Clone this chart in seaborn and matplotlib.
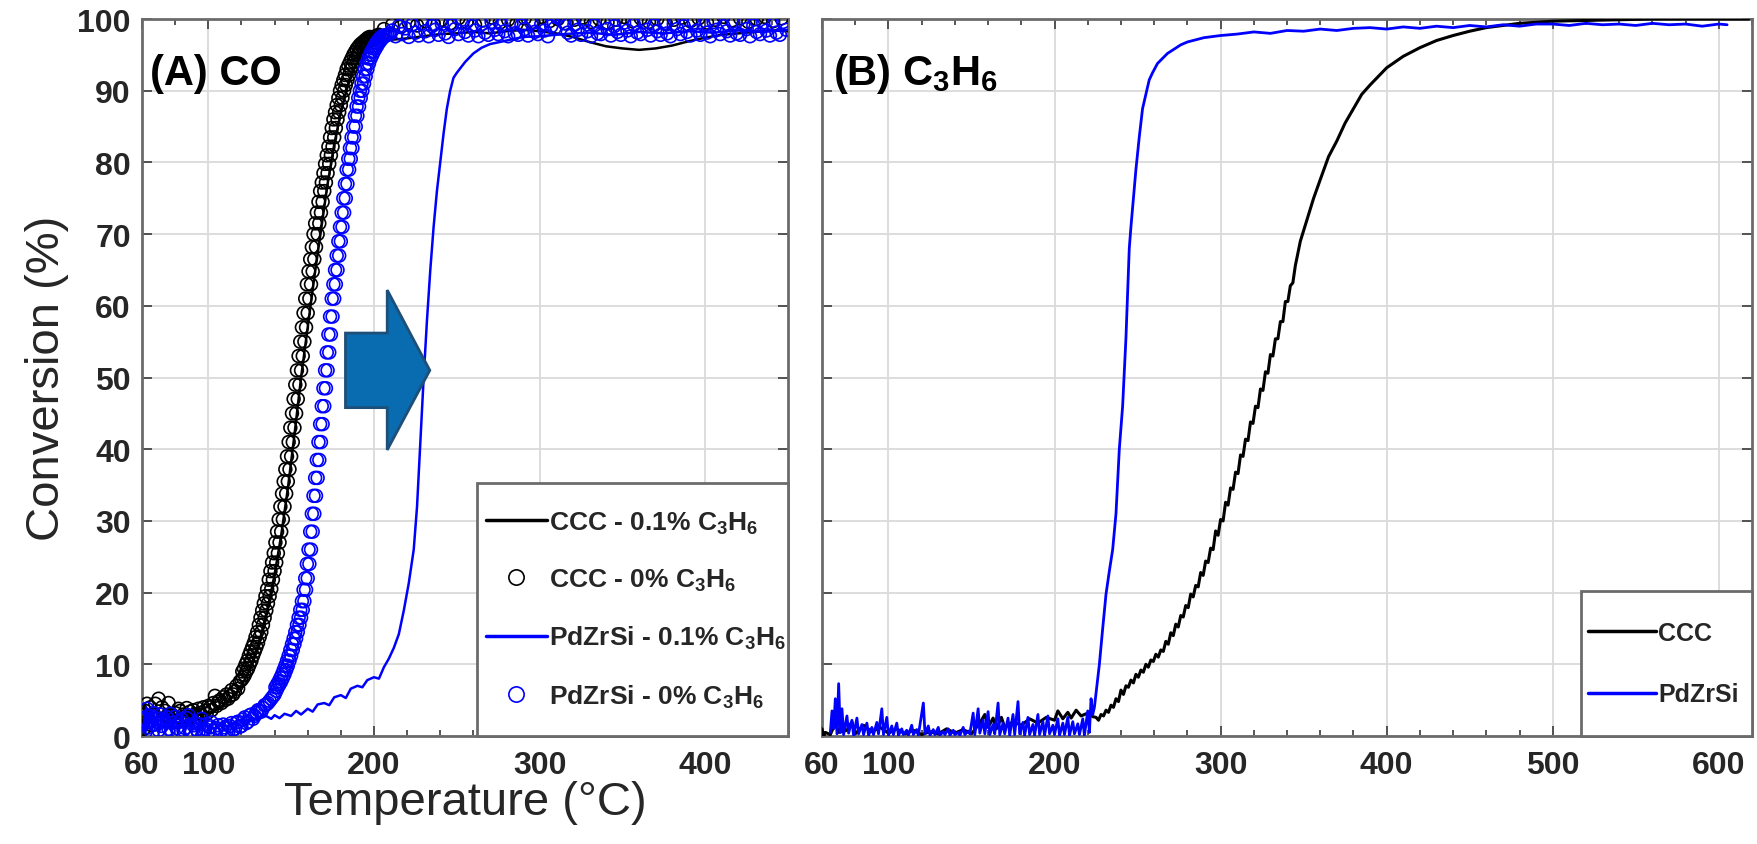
import matplotlib
matplotlib.use("Agg")
import matplotlib.pyplot as plt
import seaborn as sns
from matplotlib.lines import Line2D
from matplotlib.patches import Polygon, Rectangle
from matplotlib.ticker import MultipleLocator

# ================= Panel A : CO conversion =================
# CCC, 0.1 % C3H6 (black line)
ccc_01_T = [61, 61.3, 61.6, 62, 62.5, 63, 64, 66, 68, 70, 73, 76, 80, 84, 88, 92, 96, 100, 104, 108, 112,
            116, 120, 124, 128, 132, 136, 140, 144, 148, 152, 156, 160, 164, 168, 172, 176, 180, 184, 188,
            192, 196, 200, 205, 210, 220, 230, 240, 250, 260, 270, 280, 290, 300, 310, 320, 330, 340, 350,
            360, 370, 380, 390, 400, 410, 420, 430, 440, 450]
ccc_01_X = [0.3, 4.5, 0.8, 4.2, 1.2, 3.8, 2.5, 3.0, 2.2, 3.2, 2.6, 3.0, 2.7, 3.1, 2.8, 3.0, 2.9, 3.2, 3.5, 4.0, 4.8,
            5.8, 7.0, 8.8, 11.2, 14.2, 18.0, 22.5, 28.0, 34.5, 42.0, 50.0, 57.0, 64.0, 70.5, 77.0, 82.5, 87.0,
            90.5, 93.0, 94.8, 95.8, 96.4, 96.8, 97.1, 97.3, 97.6, 97.9, 98.0, 98.2, 98.0, 98.3, 98.5, 98.3, 98.0,
            97.5, 96.8, 96.2, 95.9, 95.7, 95.9, 96.3, 96.9, 97.4, 97.8, 98.0, 98.2, 98.4, 98.3]

# CCC, 0 % C3H6 (black circles) - main band
ccc_0_T = [61, 62, 63, 64, 65, 66, 67, 68, 69, 70,
           71, 72, 73, 74, 75, 76, 77, 78, 79, 80,
           81, 82, 83, 84, 85, 86, 87, 88, 89, 90,
           91, 92, 93, 94, 95, 96, 97, 98, 99, 100,
           101, 102, 103, 104, 105, 106, 107, 108, 109, 110,
           111, 112, 113, 114, 115, 116, 117, 118, 119,
           120, 121, 122, 123, 124, 125, 126, 127, 128, 129,
           130, 131, 132, 133, 134, 135, 136, 137, 138, 139,
           140, 141, 142, 143, 144, 145, 146, 147, 148, 149,
           150, 151, 152, 153, 154, 155, 156, 157, 158, 159,
           160, 161, 162, 163, 164, 165, 166, 167, 168, 169,
           170, 171, 172, 173, 174, 175, 176, 177, 178, 179,
           180, 181, 182, 183, 184, 185, 186, 187, 188, 189,
           190, 191, 192, 193, 194, 195, 196, 197, 198, 199,
           200, 201, 202, 203]
ccc_0_X = [1.0, 3.5, 4.5, 2.0, 4.0, 1.5, 3.0, 4.5, 2.5, 5.2,
           3.0, 4.0, 2.2, 3.5, 2.8, 4.6, 2.4, 3.0, 2.0, 3.2,
           2.6, 3.8, 3.5, 2.2, 3.0, 2.8, 3.9, 2.5, 3.4, 2.7,
           3.6, 3.0, 2.6, 3.8, 3.2, 2.9, 4.0, 3.5, 3.1, 4.2,
           4.0, 3.6, 4.6, 5.6, 4.2, 4.8, 5.0, 4.6, 5.4, 5.0,
           5.8, 5.2, 5.6, 6.4, 5.8, 6.2, 7.0, 6.6, 7.6,
           7.8, 8.1, 8.5, 9.0, 9.4, 10.0, 10.5, 11.2, 11.8, 12.4,
           13.0, 13.8, 14.5, 15.5, 16.5, 17.5, 18.5, 19.5, 20.5, 21.8,
           23.0, 24.2, 25.5, 27.0, 28.5, 30.2, 32.0, 33.8, 35.5, 37.2,
           39.0, 41.0, 43.0, 45.0, 47.0, 49.0, 51.0, 53.0, 55.0, 57.0,
           59.0, 61.0, 63.0, 64.8, 66.5, 68.2, 70.0, 71.5, 73.0, 74.5,
           76.0, 77.2, 78.5, 79.8, 81.0, 82.2, 83.5, 84.8, 86.0, 87.0,
           88.0, 89.0, 90.0, 90.8, 91.5, 92.2, 93.0, 93.5, 94.0, 94.5,
           95.0, 95.4, 95.8, 96.1, 96.4, 96.6, 96.8, 97.0, 97.2, 97.4,
           97.5, 97.6, 97.7, 97.8]
# CCC, 0 % C3H6 - leading (left) edge of the circle band
ccc_0b_T = [120.5, 121.5, 122.5, 123.5, 124.5, 125.5, 126.5, 127.5, 128.5, 129.5,
            130.5, 131.5, 132.5, 133.5, 134.5, 135.5, 136.5, 137.5, 138.5, 139.5,
            140.5, 141.5, 142.5, 143.5, 144.5, 145.5, 146.5, 147.5, 148.5, 149.5,
            150.5, 151.5, 152.5, 153.5, 154.5, 155.5, 156.5, 157.5, 158.5, 159.5,
            160.5, 161.5, 162.5, 163.5, 164.5, 165.5, 166.5, 167.5, 168.5, 169.5,
            170.5, 171.5, 172.5, 173.5, 174.5, 175.5, 176.5, 177.5, 178.5, 179.5,
            180.5, 181.5, 182.5, 183.5, 184.5, 185.5, 186.5, 187.5, 188.5, 189.5,
            190.5, 191.5, 192.5, 193.5, 194.5, 195.5, 196.5, 197.5]
ccc_0b_X = [9.0, 9.4, 10.0, 10.5, 11.2, 11.8, 12.4, 13.0, 13.8, 14.5,
            15.5, 16.5, 17.5, 18.5, 19.5, 20.5, 21.8, 23.0, 24.2, 25.5,
            27.0, 28.5, 30.2, 32.0, 33.8, 35.5, 37.2, 39.0, 41.0, 43.0,
            45.0, 47.0, 49.0, 51.0, 53.0, 55.0, 57.0, 59.0, 61.0, 63.0,
            64.8, 66.5, 68.2, 70.0, 71.5, 73.0, 74.5, 76.0, 77.2, 78.5,
            79.8, 81.0, 82.2, 83.5, 84.8, 86.0, 87.0, 88.0, 89.0, 90.0,
            90.8, 91.5, 92.2, 93.0, 93.5, 94.0, 94.5, 95.0, 95.4, 95.8,
            96.1, 96.4, 96.6, 96.8, 97.0, 97.2, 97.4, 97.5]
# CCC, 0 % C3H6 - plateau
ccc_0c_T = [206, 211, 216, 221, 226, 231, 236, 241, 246, 251, 256, 261, 266, 271, 276, 281, 286, 291,
            296, 301, 306, 311, 316, 321, 326, 331, 336, 341, 346, 351, 356, 361, 366, 371, 376, 381,
            386, 391, 396, 401, 406, 411, 416, 421, 426, 431, 436, 441, 446]
ccc_0c_X = [98.6, 99.2, 98.9, 99.5, 99.1, 99.7, 99.3, 99.9, 99.4, 100.1, 99.6, 99.2, 99.8, 100.2, 99.5,
            99.9, 99.3, 100.1, 99.6, 100.3, 99.7, 100.0, 99.4, 99.9, 100.2, 99.6, 100.0, 99.5, 99.9, 100.3,
            99.7, 100.1, 99.6, 100.0, 99.4, 99.9, 100.2, 99.7, 100.1, 99.5, 99.9, 100.3, 99.8, 100.1, 99.6,
            100.0, 100.3, 99.7, 100.1]

# PdZrSi, 0.1 % C3H6 (blue line)
pd_01_T = [61, 61.5, 62, 62.5, 63, 63.5, 64, 65, 66, 67, 68, 69, 70, 72, 74, 76, 78, 80, 82, 84, 86, 88, 90,
           92, 95, 98, 100, 103, 106, 110, 114, 118, 122, 126, 130, 134, 138, 140, 143, 146, 150, 153, 156,
           160, 163, 166, 170, 173, 176, 180, 183, 186, 190, 193, 196, 200, 203, 206, 209, 212, 215, 218, 221,
           224, 226, 228, 230, 232, 234, 236, 238, 240, 242, 244, 246, 248, 250, 255, 260, 265, 270, 280, 290,
           300, 315, 330, 345, 360, 375, 390, 405, 420, 435, 450]
pd_01_X = [0.5, 3.5, 1.0, 4.0, 0.8, 3.2, 1.5, 3.6, 0.6, 3.0, 1.2, 3.4, 0.5, 2.8, 0.7, 3.0, 0.9, 2.6, 0.6, 2.4,
           0.8, 2.5, 0.9, 2.2, 0.8, 2.3, 1.0, 2.1, 1.2, 2.2, 1.5, 2.3, 1.6, 2.5, 2.2, 2.9, 2.4, 2.9, 2.5, 3.1,
           2.8, 3.5, 3.0, 3.8, 3.4, 4.4, 4.6, 4.3, 5.4, 5.7, 5.3, 6.6, 7.0, 6.8, 7.8, 8.2, 8.0, 9.6, 10.8, 12.3,
           14.2, 17.5, 21.3, 26.0, 32.0, 41.0, 50.0, 58.0, 65.0, 71.0, 76.0, 80.0, 84.0, 87.5, 90.0, 91.8, 92.5,
           94.0, 95.2, 96.0, 96.5, 97.0, 97.5, 97.6, 97.9, 98.1, 97.8, 98.2, 98.0, 98.3, 98.1, 98.4, 98.2, 98.5]

# PdZrSi, 0 % C3H6 (blue circles) - main band
pd_0_T = [61, 62, 63, 64, 65, 66, 67, 68, 69, 70,
          71, 72, 73, 74, 75, 76, 77, 78, 79, 80,
          81, 82, 83, 84, 85, 86, 87, 88, 89, 90,
          91, 92, 93, 94, 95, 96, 97, 98, 99, 100,
          101, 102, 103, 104, 105, 106, 107, 108, 109, 110,
          111, 112, 113, 114, 115, 116, 117, 118, 119, 120,
          121, 122, 123, 124, 125, 126, 127, 128, 129,
          130, 131, 132, 133, 134, 135, 136, 137, 138, 139,
          140, 141, 142, 143, 144, 145, 146, 147, 148, 149,
          150, 151, 152, 153, 154, 155, 156, 157, 158, 159,
          160, 161, 162, 163, 164, 165, 166, 167, 168, 169,
          170, 171, 172, 173, 174, 175, 176, 177, 178, 179,
          180, 181, 182, 183, 184, 185, 186, 187, 188, 189,
          190, 191, 192, 193, 194, 195, 196, 197, 198, 199,
          200, 201, 202, 203, 204, 205, 206, 207, 208, 209, 210]
pd_0_X = [2.5, 0.5, 3.8, 1.2, 2.8, 0.4, 3.2, 1.6, 2.4, 0.8,
          3.0, 1.4, 2.2, 0.3, 2.6, 1.0, 3.1, 0.6, 1.9, 2.7,
          1.1, 0.5, 2.0, 2.3, 0.8, 1.1, 2.5, 2.9, 0.6, 0.7,
          1.5, 1.8, 0.9, 0.4, 1.6, 2.4, 0.8, 1.0, 1.7, 0.6,
          1.2, 1.9, 0.7, 0.3, 1.1, 1.5, 0.5, 0.8, 1.6, 1.2,
          0.6, 0.5, 1.4, 1.8, 0.9, 1.0, 1.9, 2.0, 1.3, 1.4,
          2.3, 2.6, 1.8, 2.0, 2.9, 3.0, 2.4, 2.8, 3.3,
          3.6, 3.5, 3.4, 3.9, 4.3, 4.4, 4.6, 4.9, 5.2, 5.5,
          5.8, 6.3, 6.8, 7.2, 7.6, 8.1, 8.6, 9.2, 9.8, 10.5,
          11.2, 12.0, 12.8, 13.6, 14.5, 15.5, 16.5, 17.6, 18.8, 20.4,
          22.0, 24.0, 26.0, 28.5, 31.0, 33.5, 36.0, 38.5, 41.0, 43.5,
          46.0, 48.5, 51.0, 53.5, 56.0, 58.5, 61.0, 63.0, 65.0, 67.0,
          69.0, 71.0, 73.0, 75.0, 77.0, 79.0, 80.5, 82.0, 83.5, 85.0,
          86.5, 87.8, 89.0, 90.0, 91.0, 92.0, 93.0, 93.8, 94.5, 95.0,
          95.5, 95.9, 96.3, 96.7, 97.0, 97.3, 97.5, 97.7, 97.8, 97.9, 98.0]
# PdZrSi, 0 % C3H6 - leading edge of the circle band
pd_0b_T = [140.5, 141.5, 142.5, 143.5, 144.5, 145.5, 146.5, 147.5, 148.5, 149.5,
           150.5, 151.5, 152.5, 153.5, 154.5, 155.5, 156.5, 157.5, 158.5, 159.5,
           160.5, 161.5, 162.5, 163.5, 164.5, 165.5, 166.5, 167.5, 168.5, 169.5,
           170.5, 171.5, 172.5, 173.5, 174.5, 175.5, 176.5, 177.5, 178.5, 179.5,
           180.5, 181.5, 182.5, 183.5, 184.5, 185.5, 186.5, 187.5, 188.5, 189.5,
           190.5, 191.5, 192.5, 193.5, 194.5, 195.5, 196.5, 197.5, 198.5, 199.5,
           200.5, 201.5, 202.5, 203.5, 204.5, 205.5]
pd_0b_X = [6.8, 7.2, 7.6, 8.1, 8.6, 9.2, 9.8, 10.5, 11.2, 12.0,
           12.8, 13.6, 14.5, 15.5, 16.5, 17.6, 18.8, 20.4, 22.0, 24.0,
           26.0, 28.5, 31.0, 33.5, 36.0, 38.5, 41.0, 43.5, 46.0, 48.5,
           51.0, 53.5, 56.0, 58.5, 61.0, 63.0, 65.0, 67.0, 69.0, 71.0,
           73.0, 75.0, 77.0, 79.0, 80.5, 82.0, 83.5, 85.0, 86.5, 87.8,
           89.0, 90.0, 91.0, 92.0, 93.0, 93.8, 94.5, 95.0, 95.5, 95.9,
           96.3, 96.7, 97.0, 97.3, 97.5, 97.7]
# PdZrSi, 0 % C3H6 - plateau
pd_0c_T = [211, 213, 215, 217, 219, 221, 223, 225, 227, 229, 231, 233, 235, 237, 239, 241, 243, 245, 247, 249,
           251, 253, 255, 257, 259, 261, 263, 265, 267, 269, 271, 273, 275, 277, 279, 281, 283, 285, 287, 289,
           291, 293, 295, 297, 299, 301, 303, 305, 307, 309, 311, 313, 315, 317, 319, 321, 323, 325, 327, 329,
           331, 333, 335, 337, 339, 341, 343, 345, 347, 349, 351, 353, 355, 357, 359, 361, 363, 365, 367, 369,
           371, 373, 375, 377, 379, 381, 383, 385, 387, 389, 391, 393, 395, 397, 399, 401, 403, 405, 407, 409,
           411, 413, 415, 417, 419, 421, 423, 425, 427, 429, 431, 433, 435, 437, 439, 441, 443, 445, 447, 449]
pd_0c_X = [98.4, 97.6, 99.0, 97.9, 98.7, 97.5, 99.2, 98.1, 97.7, 99.4, 98.3, 97.6, 99.0, 98.5, 97.8, 99.3, 98.0,
           97.5, 99.1, 98.6, 97.9, 99.5, 98.2, 97.7, 99.0, 98.4, 97.6, 99.3, 98.1, 97.8, 99.6, 98.5, 97.9, 99.2,
           98.3, 97.6, 99.4, 98.0, 97.8, 99.1, 98.6, 97.7, 99.5, 98.2, 97.9, 99.3, 98.4, 97.6, 99.0, 98.7, 100.2,
           100.6, 99.4, 98.1, 97.7, 99.2, 98.5, 97.8, 99.6, 98.3, 97.6, 99.1, 98.0, 97.9, 99.4, 98.6, 97.7, 99.0,
           98.2, 97.8, 99.5, 98.4, 97.6, 99.2, 98.1, 97.9, 99.6, 98.5, 97.7, 99.1, 98.3, 97.8, 99.4, 98.0, 97.6,
           99.3, 98.6, 97.9, 99.0, 98.2, 97.7, 99.5, 98.4, 97.8, 99.2, 98.1, 97.6, 99.6, 98.5, 97.9, 99.0, 98.3,
           97.7, 99.4, 98.0, 97.8, 99.3, 98.6, 97.6, 99.1, 98.2, 97.9, 99.5, 98.4, 97.7, 99.2, 98.1, 97.8, 99.6,
           98.5]

# ================= Panel B : C3H6 conversion =================
b_ccc_T = [60, 61, 62, 65, 68, 70, 75, 78, 80, 85, 90, 95, 100, 105, 110, 115, 120, 125, 130, 135, 140, 145,
           150, 155, 158, 160, 163, 165, 168, 170, 175, 180, 185, 190, 195, 200, 202, 205, 208, 210, 213, 216,
           220, 223, 225, 226.5, 228, 229.5, 231, 232.5, 234, 235.5, 237, 238.5, 240, 241.5, 243, 244.5, 246,
           247.5, 249, 250.5, 252, 253.5, 255, 256.5, 258, 259.5, 261, 262.5, 264, 265.5, 267, 268.5, 270,
           271.5, 273, 274.5, 276, 277.5, 279, 280.5, 282, 283.5, 285, 286.5, 288, 289.5, 291, 292.5, 294,
           295.5, 297, 298.5, 300, 301.5, 303, 304.5, 306, 307.5, 309, 310.5, 312, 313.5, 315, 316.5, 318,
           319.5, 321, 322.5, 324, 325.5, 327, 328.5, 330, 331.5, 333, 334.5, 336, 337.5, 339, 340.5, 342,
           343.5, 345, 348, 352, 356, 360, 365, 370, 375, 380, 385, 390, 395, 400, 410, 420, 430, 440, 450,
           460, 470, 480, 500, 520, 540, 560, 580, 600, 618]
b_ccc_X = [1.0, 0.0, 0.5, 0.2, 1.8, 0.5, 0.8, 2.0, 0.3, 1.5, 0.6, 1.2, 0.4, 1.0, 0.3, 0.8, 0.2, 0.6, 0.3, 1.0,
           0.4, 0.9, 0.3, 1.8, 3.0, 1.2, 2.5, 1.0, 2.6, 1.2, 2.0, 1.5, 2.4, 1.8, 2.6, 2.2, 3.5, 2.4, 3.3, 2.5,
           3.6, 2.8, 3.2, 2.7, 2.6, 2.2, 3.0, 2.8, 3.6, 3.3, 4.3, 4.0, 5.2, 4.8, 6.4, 5.8, 7.0, 6.8, 7.8,
           7.4, 8.6, 8.2, 9.2, 8.9, 10.0, 9.6, 10.6, 10.4, 11.4, 11.0, 12.0, 11.8, 13.2, 12.8, 14.4,
           14.0, 15.6, 15.2, 16.8, 16.6, 18.2, 17.9, 19.8, 19.4, 21.0, 20.8, 22.8, 22.4, 24.4, 24.2, 26.2,
           26.0, 28.6, 28.0, 30.2, 30.0, 32.6, 32.2, 34.6, 34.4, 36.8, 36.6, 39.2, 39.0, 41.4, 41.2, 43.8,
           43.6, 46.0, 45.8, 48.4, 48.2, 50.8, 50.6, 53.2, 53.0, 55.4, 55.4, 57.8, 57.8, 60.6, 60.6, 62.8,
           63.2, 65.6, 69.0, 72.0, 75.0, 77.6, 80.8, 83.0, 85.5, 87.5, 89.5, 90.8, 92.0, 93.2, 94.8, 96.0,
           97.0, 97.7, 98.3, 98.8, 99.1, 99.4, 99.7, 99.8, 99.9, 100.0, 100.0, 100.0, 100.0]

b_pd_T = [65, 66, 67, 68, 69, 70, 71, 72, 73, 75, 76, 78, 79, 81, 82, 84, 85, 87, 88, 90, 91, 93, 94, 96, 97,
          99, 100, 102, 103, 105, 106, 108, 109, 111, 112, 114, 115, 117, 118, 121, 122, 124, 125, 127, 128,
          130, 131, 133, 134, 136, 137, 139, 140, 142, 143, 145, 146, 148, 149, 151, 152, 154, 155, 157, 158,
          160, 161, 163, 164, 166, 167, 169, 170, 172, 173, 175, 176, 178, 179, 181, 182, 184, 185, 187, 188,
          190, 191, 193, 194, 196, 197, 199, 200, 202, 203, 205, 206, 208, 209, 211, 212, 214, 215, 217, 218,
          220, 221, 222, 223, 224, 225, 227, 229, 231, 233, 235, 237, 239, 241, 243, 245, 246, 247, 249, 251,
          253, 255, 257, 259, 262, 265, 268, 272, 276, 280, 285, 290, 300, 310, 320, 330, 340, 350, 360, 370,
          380, 390, 400, 410, 420, 430, 440, 450, 460, 470, 480, 490, 500, 510, 520, 530, 540, 550, 560, 570,
          580, 590, 600, 605]
b_pd_X = [0.5, 3.5, 1.0, 5.2, 0.3, 7.3, 0.5, 3.8, 0.2, 2.8, 0.4, 2.2, 0.1, 2.5, 0.3, 1.6, 0.2, 1.8, 0.1, 1.2,
          0.2, 1.9, 0.3, 3.8, 0.2, 2.6, 0.1, 1.4, 0.2, 1.8, 0.1, 1.0, 0.2, 0.8, 0.1, 1.5, 0.2, 0.9, 0.1, 4.6,
          0.3, 1.4, 0.1, 0.9, 0.2, 1.2, 0.1, 0.6, 0.2, 1.0, 0.1, 0.8, 0.2, 0.5, 0.1, 1.2, 0.2, 0.7, 0.3, 3.2,
          0.2, 3.8, 0.4, 2.2, 0.3, 3.4, 0.2, 1.6, 0.3, 4.6, 0.2, 1.8, 0.3, 2.5, 0.1, 3.0, 0.2, 4.8, 0.3, 1.9,
          0.1, 2.6, 0.2, 1.6, 0.1, 3.0, 0.2, 2.0, 0.1, 2.8, 0.3, 1.5, 0.2, 2.4, 0.1, 1.8, 0.2, 2.6, 0.1, 2.0,
          0.3, 1.7, 0.2, 2.4, 0.1, 3.5, 0.5, 5.2, 3.0, 4.0, 6.0, 10.0, 15.0, 19.8, 23.0, 26.0, 31.0, 40.0,
          46.0, 55.5, 68.0, 71.0, 73.7, 79.0, 83.5, 87.5, 89.5, 91.5, 92.5, 93.8, 94.5, 95.2, 95.8, 96.4, 96.8,
          97.1, 97.4, 97.7, 97.9, 98.2, 98.0, 98.4, 98.3, 98.6, 98.4, 98.7, 98.8, 98.6, 98.9, 98.7, 99.0, 98.8,
          99.1, 98.9, 99.2, 99.0, 99.3, 99.3, 99.1, 99.4, 99.2, 99.3, 99.1, 99.4, 99.2, 99.3, 99.0, 99.3, 99.2]

x_ticks_A = [60, 100, 200, 300, 400]
x_ticks_B = [60, 100, 200, 300, 400, 500, 600]
y_ticks = [0, 10, 20, 30, 40, 50, 60, 70, 80, 90, 100]
legend_A = [r"CCC - 0.1% C$_\mathbf{3}$H$_\mathbf{6}$", r"CCC - 0% C$_\mathbf{3}$H$_\mathbf{6}$",
            r"PdZrSi - 0.1% C$_\mathbf{3}$H$_\mathbf{6}$", r"PdZrSi - 0% C$_\mathbf{3}$H$_\mathbf{6}$"]
legend_B = ["CCC", "PdZrSi"]

# block-arrow annotation outline (data coords of panel A)
arrow_T = [182.8, 208, 208, 233.7, 208, 208, 182.8]
arrow_X = [45.8, 45.8, 39.9, 51.0, 62.2, 56.2, 56.2]

# ================= style =================
sns.set_theme(style="white")
plt.rcParams["font.family"] = ["Liberation Sans", "DejaVu Sans"]
plt.rcParams["mathtext.fontset"] = "custom"
plt.rcParams["mathtext.rm"] = "Liberation Sans"
plt.rcParams["mathtext.bf"] = "Liberation Sans:bold"
plt.rcParams["mathtext.it"] = "Liberation Sans:italic"

BLUE = "#0000ff"
SPINE = "#6b6b6b"
GRID = "#dadada"
TXT = "#262626"

fig = plt.figure(figsize=(17.58, 8.45), dpi=100)
axA = fig.add_axes([0.0808, 0.1278, 0.3675, 0.8485])
axB = fig.add_axes([0.4676, 0.1278, 0.5290, 0.8485])

circ = dict(marker="o", s=85, facecolor="none", linewidth=1.2, legend=False)
# Panel A
sns.scatterplot(x=ccc_0b_T, y=ccc_0b_X, ax=axA, edgecolor="black", zorder=3, **circ)
sns.scatterplot(x=ccc_0_T, y=ccc_0_X, ax=axA, edgecolor="black", zorder=3, **circ)
sns.scatterplot(x=ccc_0c_T, y=ccc_0c_X, ax=axA, edgecolor="black", zorder=3, **circ)
sns.lineplot(x=ccc_01_T, y=ccc_01_X, ax=axA, color="black", lw=1.8, sort=False,
             estimator=None, zorder=4)
sns.lineplot(x=pd_01_T, y=pd_01_X, ax=axA, color=BLUE, lw=1.8, sort=False,
             estimator=None, zorder=5)
sns.scatterplot(x=pd_0b_T, y=pd_0b_X, ax=axA, edgecolor=BLUE, zorder=6, **circ)
sns.scatterplot(x=pd_0_T, y=pd_0_X, ax=axA, edgecolor=BLUE, zorder=6, **circ)
sns.scatterplot(x=pd_0c_T, y=pd_0c_X, ax=axA, edgecolor=BLUE, zorder=6, **circ)

axA.add_patch(Polygon(list(zip(arrow_T, arrow_X)), closed=True, facecolor="#0a6cb0",
                      edgecolor="#1d4f78", lw=2, zorder=7))

# Panel B
sns.lineplot(x=b_ccc_T, y=b_ccc_X, ax=axB, color="black", lw=2.2, sort=False,
             estimator=None, zorder=4)
sns.lineplot(x=b_pd_T, y=b_pd_X, ax=axB, color=BLUE, lw=2.0, sort=False,
             estimator=None, zorder=5)

for ax, xt, xmax in [(axA, x_ticks_A, 450), (axB, x_ticks_B, 620)]:
    ax.set_xlim(60, xmax)
    ax.set_ylim(0, 100)
    ax.set_xticks(xt)
    ax.set_yticks(y_ticks)
    ax.xaxis.set_minor_locator(MultipleLocator(20))
    ax.grid(True, which="major", color=GRID, lw=1.3, zorder=0)
    ax.set_axisbelow(True)
    for s in ax.spines.values():
        s.set_color(SPINE)
        s.set_linewidth(2)
        s.set_visible(True)
    ax.tick_params(which="both", direction="in", top=True, right=True, bottom=True, left=True,
                   color="#3a3a3a", width=1.2)
    ax.tick_params(which="major", length=7, labelsize=23, labelcolor=TXT)
    ax.tick_params(axis="x", which="major", pad=10)
    ax.tick_params(axis="y", which="major", pad=8)
    ax.tick_params(which="minor", length=4)
    for lab in ax.get_xticklabels() + ax.get_yticklabels():
        lab.set_fontweight("bold")
    ax.set_xlabel("")
    ax.set_ylabel("")

axB.tick_params(axis="y", labelleft=False)

axA.set_ylabel("Conversion (%)", fontsize=34, color=TXT, labelpad=6)
axA.set_xlabel("Temperature (\u00b0C)", fontsize=34, color=TXT, labelpad=0)

axA.text(0.012, 0.925, "(A) CO", transform=axA.transAxes, fontsize=30, fontweight="bold",
         color="black", va="center", ha="left", zorder=8)
axB.text(0.012, 0.925, r"(B) C$_\mathbf{3}$H$_\mathbf{6}$", transform=axB.transAxes, fontsize=30,
         fontweight="bold", color="black", va="center", ha="left", zorder=8)

# Legend boxes
boxA = (0.518, 0.0, 0.482, 0.353)
boxB = (0.816, 0.0, 0.184, 0.202)
for ax, (x0, y0, w, h) in [(axA, boxA), (axB, boxB)]:
    ax.add_patch(Rectangle((x0, y0), w, h, transform=ax.transAxes, facecolor="white",
                           edgecolor=SPINE, lw=2, zorder=9, clip_on=False))

hA = [Line2D([], [], color="black", lw=2.5),
      Line2D([], [], color="none", marker="o", markerfacecolor="none", markeredgecolor="black",
             markersize=11, markeredgewidth=1.2),
      Line2D([], [], color=BLUE, lw=2.5),
      Line2D([], [], color="none", marker="o", markerfacecolor="none", markeredgecolor=BLUE,
             markersize=11, markeredgewidth=1.2)]
legA = axA.legend(hA, legend_A, loc="center left", bbox_to_anchor=boxA, borderaxespad=0,
                  prop={"weight": "bold", "size": 19}, frameon=False,
                  handlelength=2.3, handletextpad=0.1, labelspacing=1.18, borderpad=0.35)
legA.set_zorder(10)

hB = [Line2D([], [], color="black", lw=2.5), Line2D([], [], color=BLUE, lw=2.5)]
legB = axB.legend(hB, legend_B, loc="center left", bbox_to_anchor=boxB, borderaxespad=0,
                  prop={"weight": "bold", "size": 18}, frameon=False,
                  handlelength=2.7, handletextpad=0.1, labelspacing=1.5, borderpad=0.3)
legB.set_zorder(10)

fig.savefig("out.png", dpi=100, facecolor="white")
